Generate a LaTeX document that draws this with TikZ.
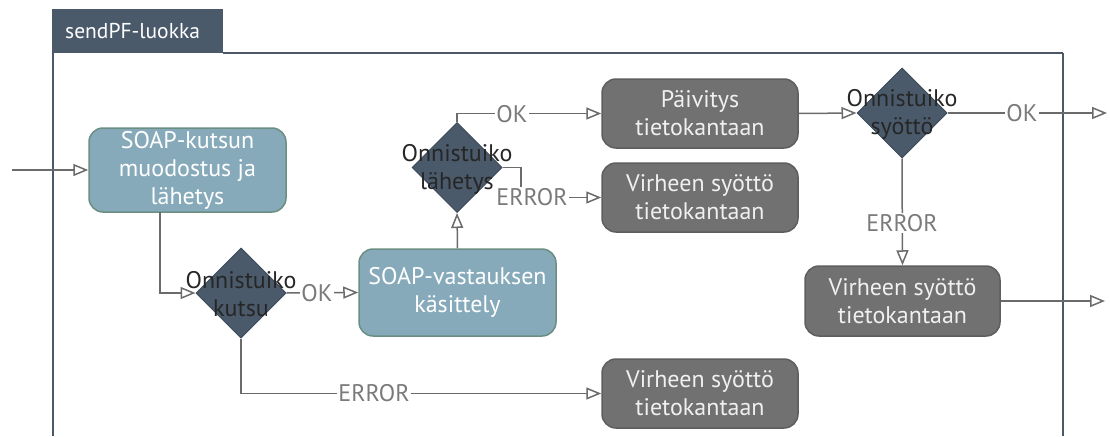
\documentclass[tikz,border=0pt]{standalone}
\usepackage{fontspec}
\setmainfont{PT Sans}
\usetikzlibrary{arrows.meta,shapes.geometric}
\definecolor{slate}{HTML}{4A5A6B}
\definecolor{framec}{HTML}{4A5868}
\definecolor{bluef}{HTML}{87AABB}
\definecolor{blued}{HTML}{6A8F82}
\definecolor{grayf}{HTML}{717171}
\definecolor{grayd}{HTML}{5E5E5E}
\definecolor{linec}{HTML}{6B6B6B}
\tikzset{
  x=1pt, y=-1pt,
  txt/.style={font=\fontsize{24}{28}\selectfont, align=center, inner sep=0pt},
  bluebox/.style={txt, draw=blued, line width=1.5pt, fill=bluef, text=white,
    rounded corners=14pt, minimum width=197pt},
  graybox/.style={txt, draw=grayd, line width=1.5pt, fill=grayf, text=white!94!black,
    rounded corners=14pt, minimum width=196pt},
  decision/.style={diamond, aspect=1, draw=slate!85!black, line width=1pt, fill=slate,
    minimum width=90pt, minimum height=90pt, inner sep=0pt},
  dtext/.style={txt, text=black!85},
  conn/.style={draw=linec, line width=1.5pt},
  arr/.style={conn, -{Triangle[open, length=15pt, width=12pt]}},
  lbl/.style={font=\fontsize{24}{28}\selectfont, text=linec!90, fill=white, inner sep=1pt},
}
\begin{document}
\begin{tikzpicture}
\useasboundingbox (0,0) rectangle (1110,436);

% swimlane frame with its tab
\fill[slate] (53,9) rectangle (223,53);
\node[anchor=west, text=white, font=\fontsize{21.5}{24}\selectfont, inner sep=0pt] (tab) at (65,31) {sendPF-luokka};
\draw[framec, line width=2pt] (53,9) -- (53,436);
\draw[framec, line width=2pt] (223,53) -- (1063,53);
\draw[framec, line width=2pt] (1063,53) -- (1063,436);

% activities
\node[bluebox, minimum height=84pt] (b1) at (187.5,170) {SOAP-kutsun\\muodostus ja\\lähetys};
\node[bluebox, minimum height=87pt] (b2) at (457.5,292.5) {SOAP-vastauksen\\käsittely};
\node[graybox, minimum height=69pt] (pv) at (700,113.5) {Päivitys\\tietokantaan};
\node[graybox, minimum height=69pt] (ve1) at (700,197.5) {Virheen syöttö\\tietokantaan};
\node[graybox, minimum height=70pt, minimum width=195pt] (ve2) at (902.5,301) {Virheen syöttö\\tietokantaan};
\node[graybox, minimum height=69pt] (ve3) at (700,393.5) {Virheen syöttö\\tietokantaan};

% decisions
\node[decision] (d1) at (241,293) {};
\node[dtext] (d1t) at (241,294) {Onnistuiko\\kutsu};
\node[decision] (d2) at (457,167.5) {};
\node[dtext] (d2t) at (457,169) {Onnistuiko\\lähetys};
\node[decision] (d3) at (902,113) {};
\node[dtext] (d3t) at (902,114) {Onnistuiko\\syöttö};

% free ends
\coordinate (start) at (12,170);
\coordinate (k1) at (160,212);
\coordinate (k2) at (521,167.5);
\coordinate (out1) at (1107,113);
\coordinate (out2) at (1105,301);

% connectors
\draw[arr] (start) -- (b1.west);
\draw[arr] (k1) |- (d1.west);
\draw[arr] (d1.east) -- (b2.west);
\draw[arr] (b2.north) -- (d2.south);
\draw[arr] (d2.north) |- (pv.west);
\draw[arr] (d2.east) -- (k2) |- (ve1.west);
\draw[arr] (pv.east) -- (d3.west);
\draw[arr] (d3.east) -- (out1);
\draw[arr] (d3.south) -- (ve2.north);
\draw[arr] (ve2.east) -- (out2);
\draw[arr] (d1.south) |- (ve3.west);

% branch labels
\node[lbl] (l1) at (317,293) {OK};
\node[lbl] (l2) at (512,114) {OK};
\node[lbl] (l3) at (532,197) {ERROR};
\node[lbl] (l4) at (1022,113) {OK};
\node[lbl] (l5) at (902,223) {ERROR};
\node[lbl] (l6) at (374,393) {ERROR};
\end{tikzpicture}
\end{document}
